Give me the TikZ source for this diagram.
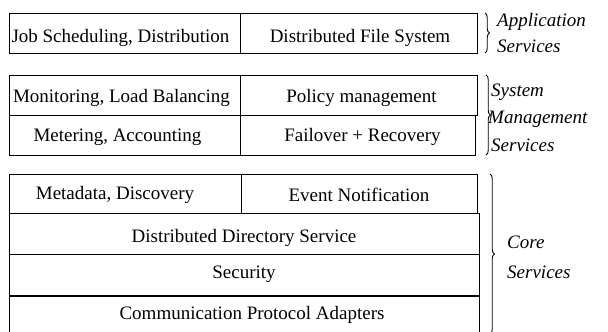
\documentclass[tikz,border=0pt]{standalone}
\usepackage{fontspec}
\setmainfont{Liberation Serif}
\usetikzlibrary{decorations.pathreplacing}
% text of a cell, moved by (#1 right, #2 down) without changing the cell's size
\newcommand\celltext[3]{\raisebox{-#2}[\height][\depth]{\rlap{\hspace{#1}#3}\phantom{#3}}}
\begin{document}
\begin{tikzpicture}[x=1pt,y=-1pt,
  cell/.style={draw, line width=0.9pt, inner sep=0pt, outer sep=0pt,
    font=\fontsize{19}{21}\selectfont},
  layer/.style={font=\fontsize{19}{21}\selectfont\itshape, anchor=base west, inner sep=0pt},
  bracebar/.style={decorate, decoration={brace, amplitude=4.5pt}, line width=0.9pt}]
\useasboundingbox (0,0) rectangle (608,332);
% application services
\node[cell, minimum width=231pt, minimum height=40pt] (job) at (124.5,33) {\celltext{-4pt}{5pt}{Job Scheduling, Distribution}};
\node[cell, minimum width=237pt, minimum height=40pt] (dfs) at (358.5,33) {\celltext{1.5pt}{5pt}{Distributed File System}};
% system management services
\node[cell, minimum width=231pt, minimum height=40pt] (mon) at (124.5,95) {\celltext{-3pt}{3pt}{Monitoring, Load Balancing}};
\node[cell, minimum width=237pt, minimum height=40pt] (pol) at (358.5,95) {\celltext{3pt}{3pt}{Policy management}};
\node[cell, minimum width=231pt, minimum height=40pt] (met) at (124.5,135) {\celltext{-7pt}{2pt}{Metering, Accounting}};
\node[cell, minimum width=235pt, minimum height=40pt] (fail) at (357.5,135) {\celltext{5pt}{2pt}{Failover + Recovery}};
% core services
\node[cell, minimum width=232pt, minimum height=39pt] (meta) at (125,193.5) {\celltext{-10pt}{1pt}{Metadata, Discovery}};
\node[cell, minimum width=236pt, minimum height=39pt] (event) at (359,193.5) {\celltext{0pt}{1pt}{Event Notification}};
\node[cell, minimum width=470pt, minimum height=41pt] (dds) at (244,233.5) {\celltext{0pt}{4pt}{Distributed Directory Service}};
\node[cell, minimum width=470pt, minimum height=42pt] (sec) at (244,275) {\celltext{0pt}{-1pt}{Security}};
\node[cell, minimum width=470pt, minimum height=41pt] (comm) at (244,316.5) {\celltext{8pt}{-2pt}{Communication Protocol Adapters}};
\draw[line width=2pt] (sec.south west) -- (sec.south east);
% braces and group names
\coordinate (appT) at (485,13);
\coordinate (appB) at (485,53);
\draw[bracebar] (appT) -- (appB);
\coordinate (sysT) at (486,75);
\coordinate (sysB) at (486,155);
\draw[bracebar] (sysT) -- (sysB);
\coordinate (coreT) at (490,174);
\coordinate (coreB) at (490,334);
\draw[bracebar] (coreT) -- (coreB);
\node[layer] (app1) at (497,26) {Application};
\node[layer] (app2) at (497,52) {Services};
\node[layer] (sys1) at (491,96) {System};
\node[layer] (sys2) at (488,123) {Management};
\node[layer] (sys3) at (491,151) {Services};
\node[layer] (core1) at (507,248) {Core};
\node[layer] (core2) at (507,278) {Services};
\end{tikzpicture}
\end{document}
